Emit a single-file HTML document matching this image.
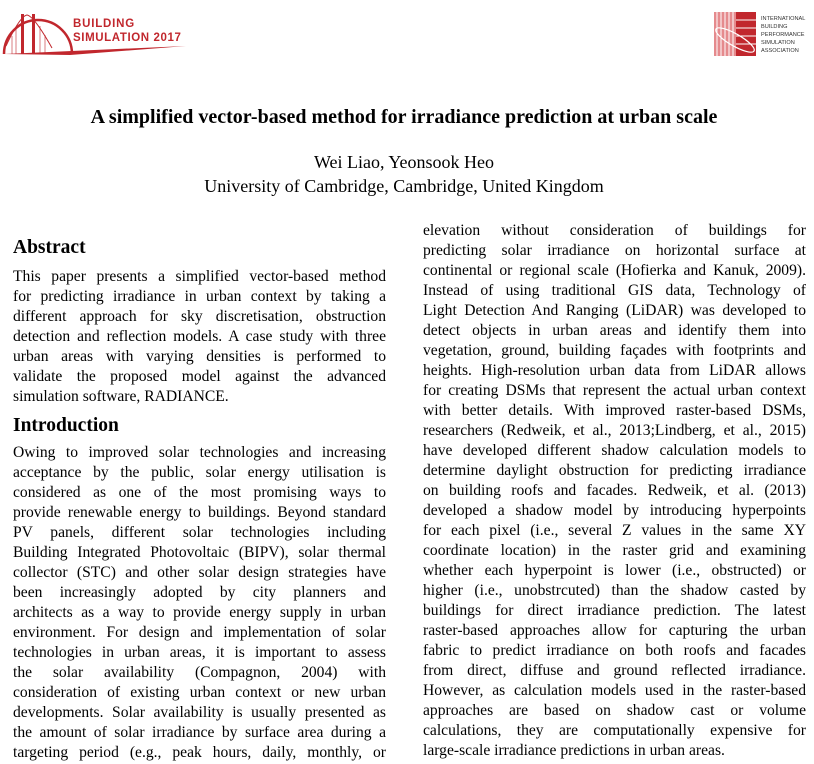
<!DOCTYPE html>
<html><head><meta charset="utf-8">
<style>
body{margin:0;background:#fff;width:814px;height:764px;overflow:hidden;position:relative;font-family:"Liberation Serif",serif;color:#000}
.l{position:absolute;height:20px;line-height:20px;font-size:15.6px;white-space:nowrap;text-align:justify;text-align-last:justify}
.e{text-align-last:left}
.L{left:13px;width:373px}
.R{left:423px;width:383px}
h2{position:absolute;margin:0;font-size:19.5px;font-weight:bold;left:13px}
.c{position:absolute;left:0;width:814px;text-align:center}
</style></head><body>
<svg style="position:absolute;left:0;top:0" width="200" height="60">
<path d="M4 54 A34 34 0 0 1 72 54" fill="none" stroke="#c1272d" stroke-width="2.5"/>
<rect x="21" y="14" width="3" height="40" fill="#c1272d"/><rect x="32" y="14" width="3" height="40" fill="#c1272d"/>
<path d="M6 46 Q20 16 27 15 Q34 16 52 48" fill="none" stroke="#c1272d" stroke-width="1"/>
<g stroke="#c1272d" stroke-width="0.6"><line x1="12" y1="36" x2="12" y2="54"/><line x1="16" y1="28" x2="16" y2="54"/><line x1="40" y1="26" x2="40" y2="54"/><line x1="45" y1="35" x2="45" y2="54"/></g>
<path d="M4 54 L186 46 L70 55 Z" fill="#c1272d"/>
<text x="73" y="27" font-family="Liberation Sans" font-weight="bold" font-size="11.5" fill="#c1272d" letter-spacing="0.8">BUILDING</text>
<text x="73" y="41" font-family="Liberation Sans" font-weight="bold" font-size="11.5" fill="#c1272d" letter-spacing="0.6">SIMULATION 2017</text>
</svg>
<svg style="position:absolute;left:700px;top:0" width="114" height="60">
<rect x="14" y="12" width="42" height="44" fill="#e58a8d"/>
<rect x="36" y="12" width="20" height="44" fill="#c1272d"/>
<g stroke="#fff" stroke-width="1"><line x1="17" y1="12" x2="17" y2="56"/><line x1="21" y1="12" x2="21" y2="56"/><line x1="25" y1="12" x2="25" y2="56"/><line x1="29" y1="12" x2="29" y2="56"/><line x1="33" y1="12" x2="33" y2="56"/>
<line x1="36" y1="20" x2="56" y2="20"/><line x1="36" y1="28" x2="56" y2="28"/><line x1="36" y1="36" x2="56" y2="36"/><line x1="36" y1="44" x2="56" y2="44"/></g>
<ellipse cx="35" cy="40" rx="22" ry="6" transform="rotate(30 35 40)" fill="none" stroke="#fff" stroke-width="1.2"/>
<g font-family="Liberation Sans" font-size="5.6" fill="#333"><text x="61" y="20">INTERNATIONAL</text><text x="61" y="28">BUILDING</text><text x="61" y="36">PERFORMANCE</text><text x="61" y="44">SIMULATION</text><text x="61" y="52">ASSOCIATION</text></g>
</svg>
<div class="c" style="top:106px;font-size:20px;font-weight:bold;left:-3px">A simplified vector-based method for irradiance prediction at urban scale</div>
<div class="c" style="top:152px;font-size:18px;left:-3px">Wei Liao, Yeonsook Heo</div>
<div class="c" style="top:176px;font-size:18px;left:-3px">University of Cambridge, Cambridge, United Kingdom</div>
<h2 style="top:237px">Abstract</h2>
<h2 style="top:415px">Introduction</h2>
<div>
<div class="l L" style="top:267px">This paper presents a simplified vector-based method</div>
<div class="l L" style="top:287px">for predicting irradiance in urban context by taking a</div>
<div class="l L" style="top:307px">different approach for sky discretisation, obstruction</div>
<div class="l L" style="top:327px">detection and reflection models. A case study with three</div>
<div class="l L" style="top:347px">urban areas with varying densities is performed to</div>
<div class="l L" style="top:367px">validate the proposed model against the advanced</div>
<div class="l L e" style="top:387px">simulation software, RADIANCE.</div>
</div>
<div>
<div class="l L" style="top:443px">Owing to improved solar technologies and increasing</div>
<div class="l L" style="top:463px">acceptance by the public, solar energy utilisation is</div>
<div class="l L" style="top:483px">considered as one of the most promising ways to</div>
<div class="l L" style="top:503px">provide renewable energy to buildings. Beyond standard</div>
<div class="l L" style="top:523px">PV panels, different solar technologies including</div>
<div class="l L" style="top:543px">Building Integrated Photovoltaic (BIPV), solar thermal</div>
<div class="l L" style="top:563px">collector (STC) and other solar design strategies have</div>
<div class="l L" style="top:583px">been increasingly adopted by city planners and</div>
<div class="l L" style="top:603px">architects as a way to provide energy supply in urban</div>
<div class="l L" style="top:623px">environment. For design and implementation of solar</div>
<div class="l L" style="top:643px">technologies in urban areas, it is important to assess</div>
<div class="l L" style="top:663px">the solar availability (Compagnon, 2004) with</div>
<div class="l L" style="top:683px">consideration of existing urban context or new urban</div>
<div class="l L" style="top:703px">developments. Solar availability is usually presented as</div>
<div class="l L" style="top:723px">the amount of solar irradiance by surface area during a</div>
<div class="l L" style="top:743px">targeting period (e.g., peak hours, daily, monthly, or</div>
</div>
<div>
<div class="l R" style="top:221px">elevation without consideration of buildings for</div>
<div class="l R" style="top:241px">predicting solar irradiance on horizontal surface at</div>
<div class="l R" style="top:261px">continental or regional scale (Hofierka and Kanuk, 2009).</div>
<div class="l R" style="top:281px">Instead of using traditional GIS data, Technology of</div>
<div class="l R" style="top:301px">Light Detection And Ranging (LiDAR) was developed to</div>
<div class="l R" style="top:321px">detect objects in urban areas and identify them into</div>
<div class="l R" style="top:341px">vegetation, ground, building façades with footprints and</div>
<div class="l R" style="top:361px">heights. High-resolution urban data from LiDAR allows</div>
<div class="l R" style="top:381px">for creating DSMs that represent the actual urban context</div>
<div class="l R" style="top:401px">with better details. With improved raster-based DSMs,</div>
<div class="l R" style="top:421px">researchers (Redweik, et al., 2013;Lindberg, et al., 2015)</div>
<div class="l R" style="top:441px">have developed different shadow calculation models to</div>
<div class="l R" style="top:461px">determine daylight obstruction for predicting irradiance</div>
<div class="l R" style="top:481px">on building roofs and facades. Redweik, et al. (2013)</div>
<div class="l R" style="top:501px">developed a shadow model by introducing hyperpoints</div>
<div class="l R" style="top:521px">for each pixel (i.e., several Z values in the same XY</div>
<div class="l R" style="top:541px">coordinate location) in the raster grid and examining</div>
<div class="l R" style="top:561px">whether each hyperpoint is lower (i.e., obstructed) or</div>
<div class="l R" style="top:581px">higher (i.e., unobstrcuted) than the shadow casted by</div>
<div class="l R" style="top:601px">buildings for direct irradiance prediction. The latest</div>
<div class="l R" style="top:621px">raster-based approaches allow for capturing the urban</div>
<div class="l R" style="top:641px">fabric to predict irradiance on both roofs and facades</div>
<div class="l R" style="top:661px">from direct, diffuse and ground reflected irradiance.</div>
<div class="l R" style="top:681px">However, as calculation models used in the raster-based</div>
<div class="l R" style="top:701px">approaches are based on shadow cast or volume</div>
<div class="l R" style="top:721px">calculations, they are computationally expensive for</div>
<div class="l R e" style="top:741px">large-scale irradiance predictions in urban areas.</div>
</div>
</body></html>
